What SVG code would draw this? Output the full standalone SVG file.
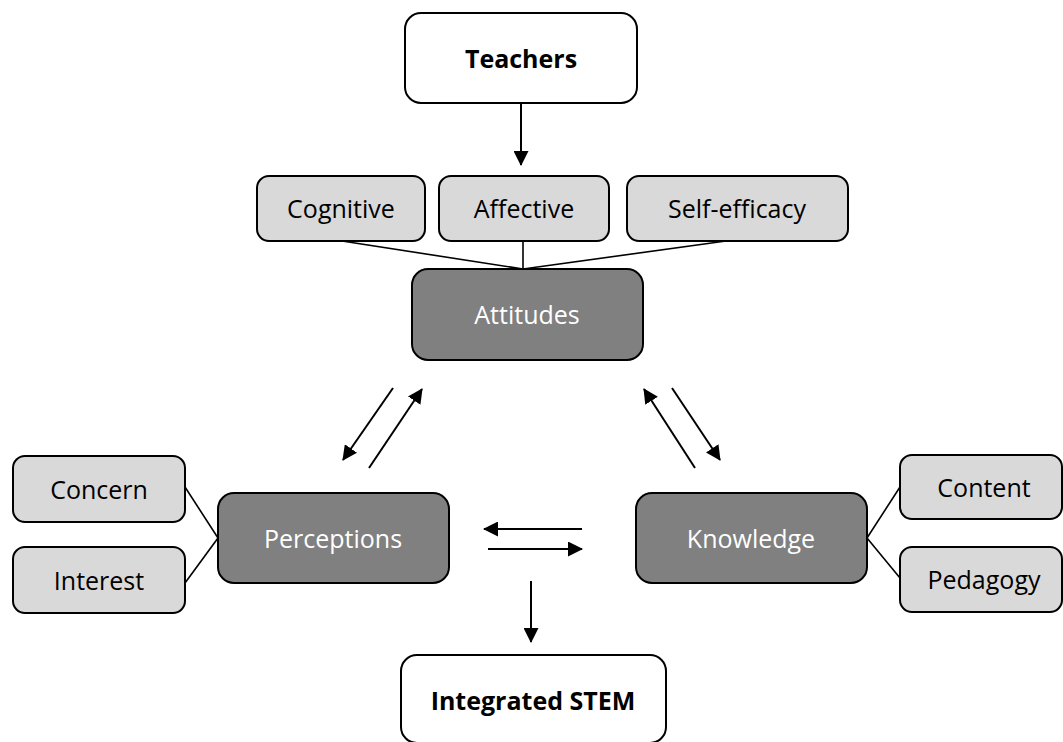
<svg xmlns="http://www.w3.org/2000/svg" width="1063" height="742" viewBox="0 0 1063 742">
<style>
.box{stroke:#000;stroke-width:2}
.w{fill:#fff}
.l{fill:#d9d9d9}
.d{fill:#808080}
text{font-family:"Open Sans","Liberation Sans",sans-serif;font-size:25px;text-anchor:middle}
.b{font-weight:bold;fill:#000}
.t{fill:#000}
.tw{fill:#fff}
.c{stroke:#000;stroke-width:1.6;fill:none}
.a{stroke:#000;stroke-width:2;fill:none;marker-end:url(#ah)}
</style>
<defs>
<marker id="ah" viewBox="0 0 15 15" refX="14" refY="7.5" markerWidth="15" markerHeight="15" markerUnits="userSpaceOnUse" orient="auto">
<path d="M0,0 L15,7.5 L0,15 Z" fill="#000"/>
</marker>
</defs>
<rect width="1063" height="742" fill="#fff"/>
<g id="connectors">
<line class="a" x1="521" y1="103" x2="521" y2="165"/>
<line class="c" x1="342" y1="241" x2="523" y2="269"/>
<line class="c" x1="523" y1="241" x2="523" y2="269"/>
<line class="c" x1="726" y1="241" x2="523" y2="269"/>
<line class="a" x1="393" y1="388" x2="343" y2="460"/>
<line class="a" x1="369" y1="468" x2="422" y2="389"/>
<line class="a" x1="695" y1="468" x2="644" y2="389"/>
<line class="a" x1="672" y1="388" x2="720" y2="460"/>
<line class="a" x1="582" y1="529" x2="484" y2="529"/>
<line class="a" x1="488" y1="549" x2="582" y2="549"/>
<line class="a" x1="531" y1="581" x2="531" y2="642"/>
<line class="c" x1="185" y1="487" x2="218" y2="538"/>
<line class="c" x1="185" y1="583" x2="218" y2="538"/>
<line class="c" x1="867" y1="538" x2="900" y2="487"/>
<line class="c" x1="867" y1="538" x2="900" y2="578"/>
</g>
<g id="teachers"><rect class="box w" x="405" y="13" width="232" height="90" rx="16"/><text class="b" x="521" y="68">Teachers</text></g>
<g id="cognitive"><rect class="box l" x="257" y="176" width="168" height="65" rx="12"/><text class="t" x="341" y="218">Cognitive</text></g>
<g id="affective"><rect class="box l" x="439" y="176" width="170" height="65" rx="12"/><text class="t" x="524" y="218">Affective</text></g>
<g id="self-efficacy"><rect class="box l" x="627" y="176" width="221" height="65" rx="12"/><text class="t" x="737" y="218">Self-efficacy</text></g>
<g id="attitudes"><rect class="box d" x="412" y="269" width="231" height="91" rx="16"/><text class="tw" x="527" y="324">Attitudes</text></g>
<g id="concern"><rect class="box l" x="13" y="456" width="172" height="66" rx="12"/><text class="t" x="99" y="499">Concern</text></g>
<g id="interest"><rect class="box l" x="13" y="547" width="172" height="66" rx="12"/><text class="t" x="99" y="590">Interest</text></g>
<g id="perceptions"><rect class="box d" x="218" y="493" width="231" height="90" rx="16"/><text class="tw" x="333" y="548">Perceptions</text></g>
<g id="knowledge"><rect class="box d" x="636" y="493" width="231" height="90" rx="16"/><text class="tw" x="751" y="548">Knowledge</text></g>
<g id="content"><rect class="box l" x="900" y="455" width="162" height="64" rx="12"/><text class="t" x="984" y="497">Content</text></g>
<g id="pedagogy"><rect class="box l" x="900" y="547" width="162" height="65" rx="12"/><text class="t" x="984" y="589">Pedagogy</text></g>
<g id="integrated-stem"><rect class="box w" x="401" y="655" width="265" height="88" rx="16"/><text class="b" x="533" y="710">Integrated STEM</text></g>
</svg>
